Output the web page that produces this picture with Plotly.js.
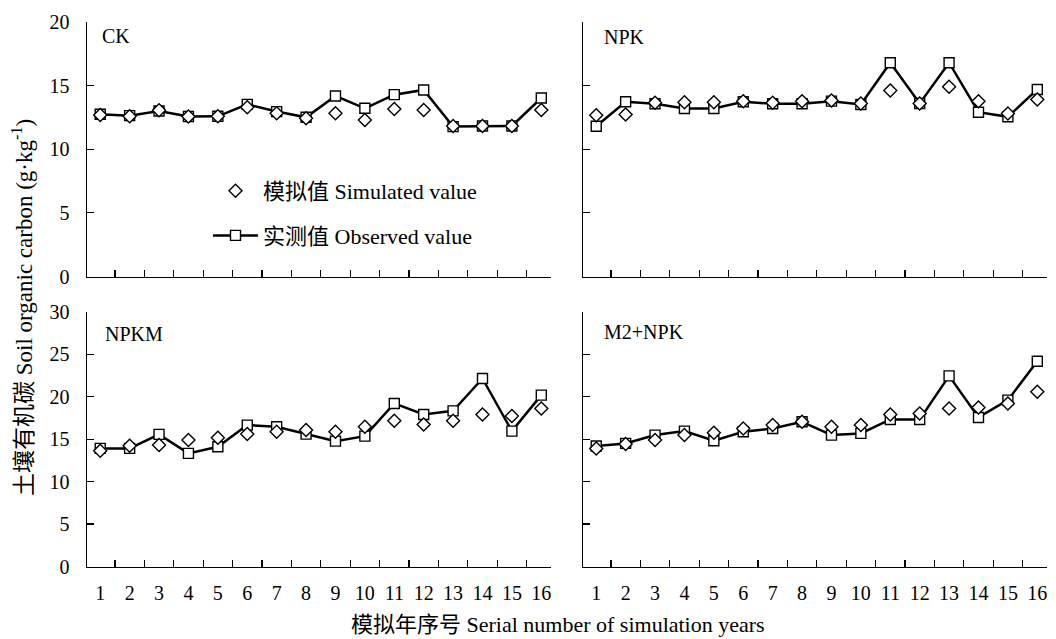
<!DOCTYPE html>
<html>
<head>
<meta charset="utf-8">
<script src="https://cdn.plot.ly/plotly-3.0.1.min.js"></script>
<style>html,body{margin:0;padding:0;background:#fff;}#chart{width:1056px;height:639px;}</style>
</head>
<body>
<div id="chart"></div>
<script>
// ---- data ----
const years = [1,2,3,4,5,6,7,8,9,10,11,12,13,14,15,16];
const yearLabels = ['1','2','3','4','5','6','7','8','9','10','11','12','13','14','15','16'];
const panelNames = ['CK','NPK','NPKM','M2+NPK'];

const ckSim  = [12.70,12.59,13.06,12.57,12.59,13.30,12.83,12.43,12.83,12.30,13.17,13.09,11.83,11.83,11.83,13.09];
const ckObs  = [12.75,12.64,13.01,12.57,12.59,13.53,12.96,12.51,14.19,13.22,14.29,14.66,11.78,11.83,11.83,14.03];

const npkSim = [12.68,12.73,13.65,13.70,13.70,13.78,13.65,13.78,13.83,13.60,14.62,13.60,14.91,13.78,12.81,13.91];
const npkObs = [11.81,13.73,13.57,13.20,13.20,13.73,13.57,13.57,13.78,13.52,16.80,13.60,16.80,12.91,12.55,14.70];

const npkmSim = [13.65,14.24,14.31,14.90,15.18,15.61,15.88,16.08,15.88,16.47,17.18,16.75,17.18,17.92,17.73,18.63];
const npkmObs = [13.92,13.92,15.57,13.33,14.12,16.67,16.47,15.61,14.78,15.37,19.22,17.92,18.35,22.16,15.96,20.20];

const m2Sim = [13.92,14.43,14.90,15.49,15.76,16.27,16.67,17.06,16.47,16.67,17.92,18.04,18.63,18.75,19.22,20.59];
const m2Obs = [14.20,14.51,15.49,15.96,14.82,15.88,16.27,17.06,15.49,15.69,17.33,17.33,22.47,17.57,19.61,24.20];

const simName = '模拟值 Simulated value';
const obsName = '实测值 Observed value';
const yTitle = '土壤有机碳 Soil organic carbon (g·kg<sup>-1</sup>)';
const xTitle = '模拟年序号 Serial number of simulation years';

// ---- styling ----
const FONT = 'Liberation Serif, "Noto Sans CJK SC", serif';
const FS = 20;
const xRange = [0.55, 16.33];
const tickPos = [1.5,2.5,3.5,4.5,5.5,6.5,7.5,8.5,9.5,10.5,11.5,12.5,13.5,14.5,15.5,16.33];

const W = 1056, H = 639;
const xdL = [87/W, 551/W], xdR = [583/W, 1047/W];
const ydT = [1-276.5/H, 1-22/H], ydB = [1-566.5/H, 1-312/H];

const sets = [
  {sim: ckSim, obs: ckObs, xa: 'x', ya: 'y'},
  {sim: npkSim, obs: npkObs, xa: 'x2', ya: 'y2'},
  {sim: npkmSim, obs: npkmObs, xa: 'x3', ya: 'y3'},
  {sim: m2Sim, obs: m2Obs, xa: 'x4', ya: 'y4'}
];

const traces = [];
sets.forEach((s, i) => {
  traces.push({
    x: years, y: s.obs, xaxis: s.xa, yaxis: s.ya, type: 'scatter', mode: 'lines+markers',
    name: obsName, legendgroup: 'obs', showlegend: i === 0, legendrank: 2,
    line: {color: '#000', width: 2.5},
    marker: {symbol: 'square', size: 10, color: '#fff', line: {color: '#000', width: 1.4}}
  });
  traces.push({
    x: years, y: s.sim, xaxis: s.xa, yaxis: s.ya, type: 'scatter', mode: 'markers',
    name: simName, legendgroup: 'sim', showlegend: i === 0, legendrank: 1,
    marker: {symbol: 'diamond', size: 10, color: '#fff', line: {color: '#000', width: 1.4}}
  });
});
// invisible carriers so the year-label axes of the bottom panels are drawn
[['x5','y3'],['x6','y4']].forEach(p => {
  traces.push({x: years, y: years.map(() => null), xaxis: p[0], yaxis: p[1], type: 'scatter',
    mode: 'markers', showlegend: false, hoverinfo: 'skip', marker: {opacity: 0}});
});

function xAxis(domain, anchor) {
  return {
    domain: domain, anchor: anchor, range: xRange, tickmode: 'array', tickvals: tickPos,
    showticklabels: false, ticks: 'inside', ticklen: 7, tickwidth: 1.2, tickcolor: '#000',
    showline: true, linecolor: '#000', linewidth: 1.5, showgrid: false, zeroline: false, fixedrange: true
  };
}
function yAxis(domain, anchor, maxV, labels) {
  return {
    domain: domain, anchor: anchor, range: [0, maxV], tickmode: 'linear', tick0: 0, dtick: 5,
    showticklabels: labels, ticks: 'inside', ticklen: 7, tickwidth: 1.2, tickcolor: '#000',
    ticklabelstandoff: 12,
    tickfont: {family: FONT, size: FS, color: '#000'},
    showline: true, linecolor: '#000', linewidth: 1.5, showgrid: false, zeroline: false, fixedrange: true
  };
}
function labelAxis(over, anchor) {
  return {
    overlaying: over, anchor: anchor, side: 'bottom', range: xRange, tickmode: 'array', tickvals: years, ticktext: yearLabels,
    ticks: '', showline: false, showgrid: false, zeroline: false, ticklabelstandoff: 12,
    tickfont: {family: FONT, size: FS, color: '#000'}, fixedrange: true
  };
}

const panelAnn = [
  {text: 'CK', xref: 'x domain', yref: 'y domain', x: 0.027, y: 0.945},
  {text: 'NPK', xref: 'x2 domain', yref: 'y2 domain', x: 0.04, y: 0.94},
  {text: 'NPKM', xref: 'x3 domain', yref: 'y3 domain', x: 0.034, y: 0.915},
  {text: 'M2+NPK', xref: 'x4 domain', yref: 'y4 domain', x: 0.04, y: 0.92}
].map(a => Object.assign(a, {showarrow: false, xanchor: 'left', yanchor: 'middle',
  font: {family: FONT, size: FS, color: '#000'}}));

const layout = {
  width: W, height: H, margin: {l: 0, r: 0, t: 0, b: 0},
  paper_bgcolor: '#fff', plot_bgcolor: '#fff',
  font: {family: FONT, size: FS, color: '#000'},
  xaxis: xAxis(xdL, 'y'), yaxis: yAxis(ydT, 'x', 20, true),
  xaxis2: xAxis(xdR, 'y2'), yaxis2: yAxis(ydT, 'x2', 20, false),
  xaxis3: xAxis(xdL, 'y3'), yaxis3: yAxis(ydB, 'x3', 30, true),
  xaxis4: xAxis(xdR, 'y4'), yaxis4: yAxis(ydB, 'x4', 30, false),
  xaxis5: labelAxis('x3', 'y3'),
  xaxis6: labelAxis('x4', 'y4'),
  showlegend: true,
  legend: {x: 208/W, y: 1-170/H, xanchor: 'left', yanchor: 'top', bgcolor: 'rgba(0,0,0,0)',
    itemwidth: 45, tracegroupgap: 13, traceorder: 'grouped',
    font: {family: FONT, size: 22, color: '#000'}},
  annotations: panelAnn.concat([
    {text: yTitle, xref: 'paper', yref: 'paper', x: 22/W, y: 1-308/H, textangle: -90,
     showarrow: false, xanchor: 'center', yanchor: 'middle', font: {family: FONT, size: 23, color: '#000'}},
    {text: xTitle, xref: 'paper', yref: 'paper', x: 558/W, y: 1-624/H,
     showarrow: false, xanchor: 'center', yanchor: 'middle', font: {family: FONT, size: 22, color: '#000'}}
  ])
};

Plotly.newPlot('chart', traces, layout, {staticPlot: true, displayModeBar: false});
</script>
</body>
</html>
